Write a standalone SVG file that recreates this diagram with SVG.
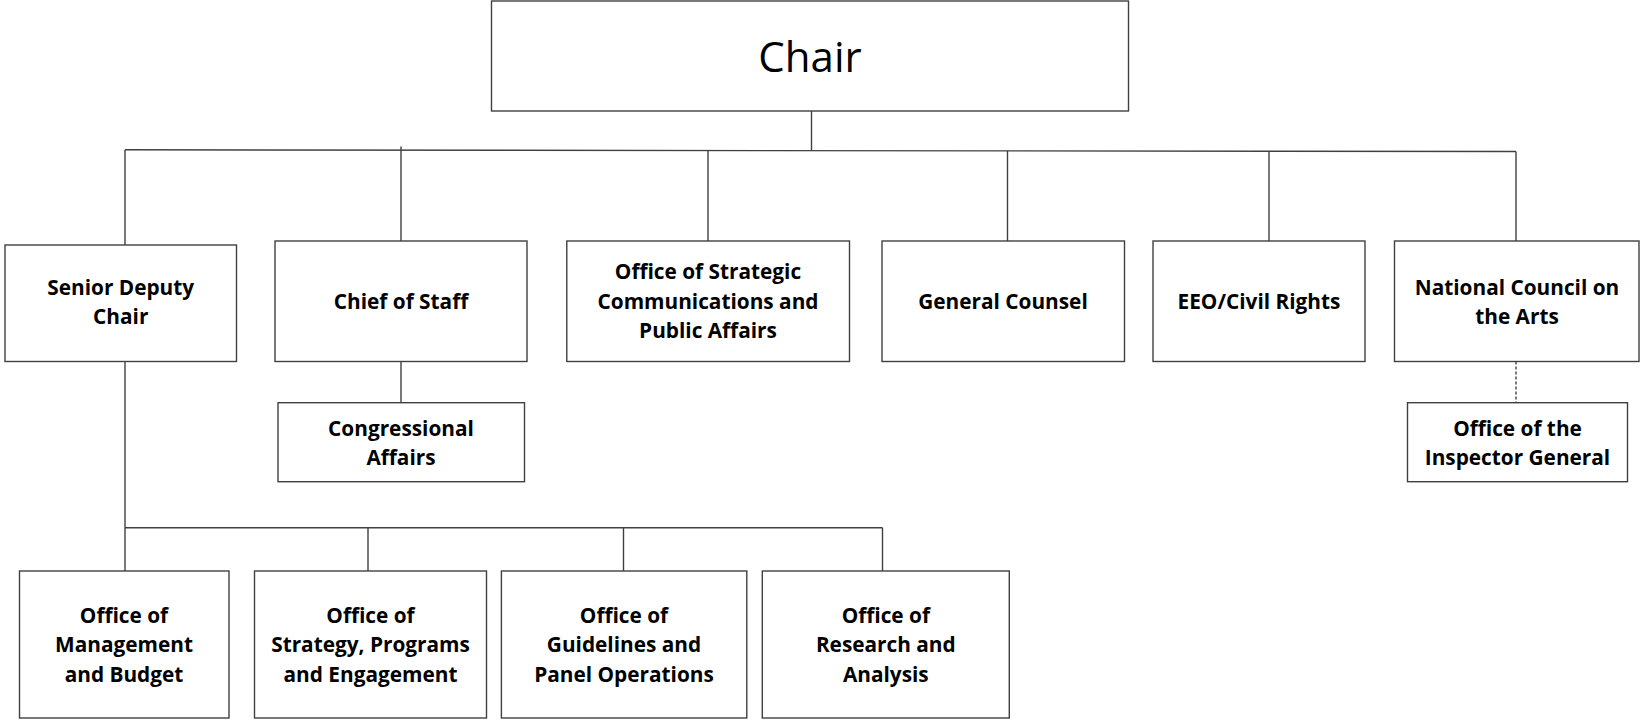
<svg xmlns="http://www.w3.org/2000/svg" width="1640" height="720" viewBox="0 0 1640 720">
  <style>
    .box { fill: #ffffff; stroke: #404040; stroke-width: 1.4; }
    .link { fill: none; stroke: #404040; stroke-width: 1.4; }
    .dashed { stroke: #333333; stroke-dasharray: 3 2; stroke-width: 1.3; }
    .label { font-family: "Open Sans", "Liberation Sans", sans-serif; font-weight: 700; font-size: 20.8px; fill: #000000; text-anchor: middle; }
    .title { font-family: "Open Sans", "Liberation Sans", sans-serif; font-weight: 400; font-size: 42px; fill: #000000; text-anchor: middle; }
  </style>
  <rect width="1640" height="720" fill="#ffffff"/>

  <!-- connectors -->
  <g id="connectors">
    <line class="link" x1="811.5" y1="111" x2="811.5" y2="150.5"/>
    <line class="link" x1="125" y1="149.8" x2="1516" y2="151.5"/>
    <line class="link" x1="125" y1="149.8" x2="125" y2="245"/>
    <line class="link" x1="401" y1="146.5" x2="401" y2="241"/>
    <line class="link" x1="708" y1="150.5" x2="708" y2="241"/>
    <line class="link" x1="1007.5" y1="150.8" x2="1007.5" y2="241"/>
    <line class="link" x1="1269" y1="151" x2="1269" y2="241"/>
    <line class="link" x1="1516" y1="151.5" x2="1516" y2="241"/>
    <line class="link" x1="401" y1="361.5" x2="401" y2="402.7"/>
    <line class="link dashed" x1="1516" y1="361.5" x2="1516" y2="402.7"/>
    <line class="link" x1="125" y1="361.5" x2="125" y2="571"/>
    <line class="link" x1="125" y1="527.7" x2="882.5" y2="527.7"/>
    <line class="link" x1="368" y1="527.7" x2="368" y2="571"/>
    <line class="link" x1="623.5" y1="527.7" x2="623.5" y2="571"/>
    <line class="link" x1="882.5" y1="527.7" x2="882.5" y2="571"/>
  </g>

  <g id="chair">
    <rect class="box" x="491.5" y="1" width="637" height="110"/>
    <text class="title" x="810" y="71.5">Chair</text>
  </g>

  <g id="senior-deputy-chair">
    <rect class="box" x="5" y="245" width="231.5" height="116.5"/>
    <text class="label" x="120.7" y="295">Senior Deputy</text>
    <text class="label" x="120.7" y="324">Chair</text>
  </g>

  <g id="chief-of-staff">
    <rect class="box" x="275" y="241" width="252" height="120.5"/>
    <text class="label" x="401" y="308.5">Chief of Staff</text>
  </g>

  <g id="strategic-communications">
    <rect class="box" x="566.8" y="241" width="282.7" height="120.5"/>
    <text class="label" x="708" y="279">Office of Strategic</text>
    <text class="label" x="708" y="308.5">Communications and</text>
    <text class="label" x="708" y="338">Public Affairs</text>
  </g>

  <g id="general-counsel">
    <rect class="box" x="882" y="241" width="242.5" height="120.5"/>
    <text class="label" x="1003" y="308.5">General Counsel</text>
  </g>

  <g id="eeo-civil-rights">
    <rect class="box" x="1153" y="241" width="212" height="120.5"/>
    <text class="label" x="1259" y="308.5">EEO/Civil Rights</text>
  </g>

  <g id="national-council">
    <rect class="box" x="1394.5" y="241" width="244.5" height="120.5"/>
    <text class="label" x="1517" y="294.5">National Council on</text>
    <text class="label" x="1517" y="323.5">the Arts</text>
  </g>

  <g id="congressional-affairs">
    <rect class="box" x="278" y="402.7" width="246.5" height="79"/>
    <text class="label" x="401" y="435.5">Congressional</text>
    <text class="label" x="401" y="465">Affairs</text>
  </g>

  <g id="inspector-general">
    <rect class="box" x="1407.5" y="402.7" width="220" height="79"/>
    <text class="label" x="1517.5" y="435.5">Office of the</text>
    <text class="label" x="1517.5" y="465">Inspector General</text>
  </g>

  <g id="management-budget">
    <rect class="box" x="19.5" y="571" width="209.5" height="147"/>
    <text class="label" x="124" y="623.3">Office of</text>
    <text class="label" x="124" y="652.3">Management</text>
    <text class="label" x="124" y="681.5">and Budget</text>
  </g>

  <g id="strategy-programs">
    <rect class="box" x="254.5" y="571" width="232" height="147"/>
    <text class="label" x="370.5" y="623.3">Office of</text>
    <text class="label" x="370.5" y="652.3">Strategy, Programs</text>
    <text class="label" x="370.5" y="681.5">and Engagement</text>
  </g>

  <g id="guidelines-panel">
    <rect class="box" x="501.4" y="571" width="245.4" height="147"/>
    <text class="label" x="624" y="623.3">Office of</text>
    <text class="label" x="624" y="652.3">Guidelines and</text>
    <text class="label" x="624" y="681.5">Panel Operations</text>
  </g>

  <g id="research-analysis">
    <rect class="box" x="762.3" y="571" width="247" height="147"/>
    <text class="label" x="885.8" y="623.3">Office of</text>
    <text class="label" x="885.8" y="652.3">Research and</text>
    <text class="label" x="885.8" y="681.5">Analysis</text>
  </g>
</svg>
